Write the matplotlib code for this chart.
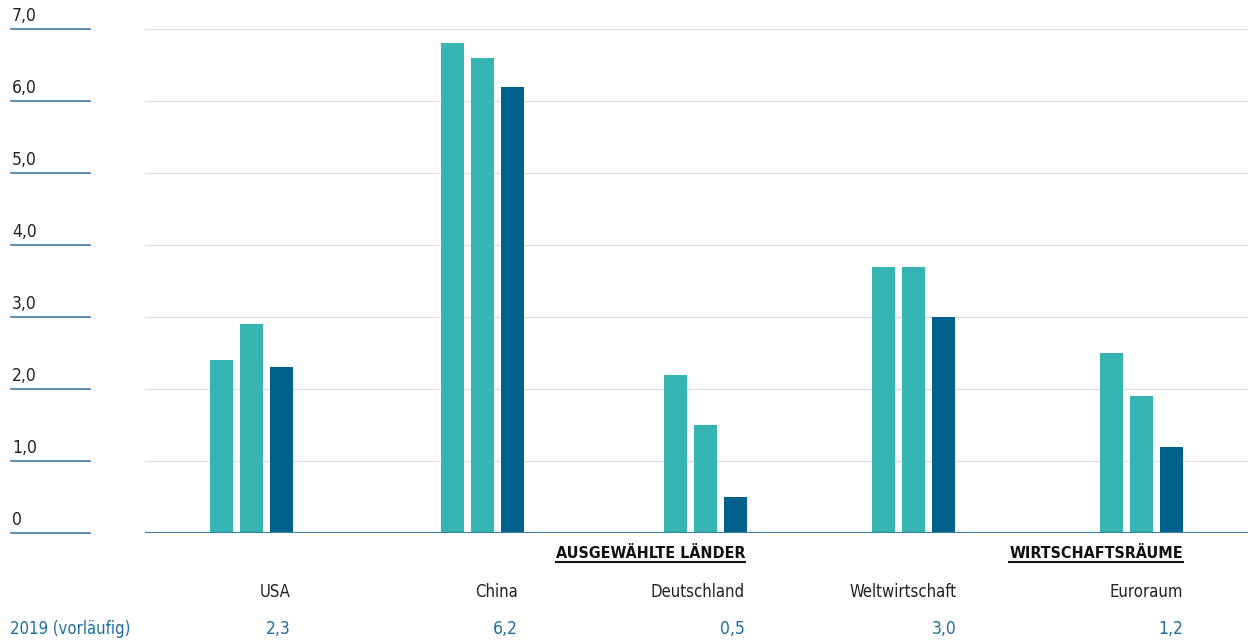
import matplotlib
matplotlib.use("Agg")
import matplotlib.pyplot as plt
from matplotlib.lines import Line2D

# data
categories = ["USA", "China", "Deutschland", "Weltwirtschaft", "Euroraum"]
series_a = [2.4, 6.8, 2.2, 3.7, 2.5]
series_b = [2.9, 6.6, 1.5, 3.7, 1.9]
series_2019 = [2.3, 6.2, 0.5, 3.0, 1.2]
value_labels = ["2,3", "6,2", "0,5", "3,0", "1,2"]
yticks = [0, 1, 2, 3, 4, 5, 6, 7]
ytick_labels = ["0", "1,0", "2,0", "3,0", "4,0", "5,0", "6,0", "7,0"]
row_label = "2019 (vorläufig)"
sections = [("AUSGEWÄHLTE LÄNDER", 2), ("WIRTSCHAFTSRÄUME", 4)]

# layout (pixel-like units inside the axes)
group_pos = [106.5, 337, 560, 768, 996]
label_right = [291, 518, 745, 957, 1183]   # right edge of labels, px
bw = 23
off = 30

TEAL = "#36b5b3"
DARK = "#00628c"
BLUE = "#1f6e9c"
LINE = "#3a7ca5"
FONT = dict(family="DejaVu Sans", fontstretch="condensed")

W, H = 1248, 641
fig = plt.figure(figsize=(W / 100, H / 100), dpi=100)
ax = fig.add_axes([145 / W, (H - 533) / H, 1 - 145 / W, 504 / H])

for i in range(len(categories)):
    x = group_pos[i]
    ax.bar(x - off, series_a[i], width=bw, color=TEAL)
    ax.bar(x, series_b[i], width=bw, color=TEAL)
    ax.bar(x + off, series_2019[i], width=bw, color=DARK)

ax.set_xlim(0, W - 145)
ax.set_ylim(0, 7)
for t in yticks[1:]:
    ax.axhline(t, color="#e2e2e2", lw=1, zorder=0)
ax.axhline(0, color=LINE, lw=1.5, zorder=3)
for s in ax.spines.values():
    s.set_visible(False)
ax.set_xticks([])
ax.set_yticks([])

# y labels with short lines on the left
for t, lab in zip(yticks, ytick_labels):
    yf = ((H - 533) + t * 72) / H
    fig.add_artist(Line2D([11 / W, 90 / W], [yf, yf], color=LINE, lw=1.2))
    fig.text(12 / W, yf + 4 / H, lab, ha="left", va="bottom", fontsize=12.5,
             color="#222222", **FONT)

# category names and values
for i, cat in enumerate(categories):
    xr = label_right[i] / W
    fig.text(xr, 1 - 592 / H, cat, ha="right", va="center", fontsize=12,
             color="#222222", **FONT)
    fig.text(xr, 1 - 629 / H, value_labels[i], ha="right", va="center",
             fontsize=12.5, color=BLUE, **FONT)
fig.text(10 / W, 1 - 629 / H, row_label, ha="left", va="center",
         fontsize=12, color=BLUE, **FONT)

# section headers, underlined
heads = []
for txt, gi in sections:
    xr = label_right[gi] / W
    heads.append(fig.text(xr, 1 - 553 / H, txt, ha="right", va="center",
                          fontsize=11.5, fontweight="heavy", color="#111111", **FONT))
fig.canvas.draw()
r = fig.canvas.get_renderer()
for h in heads:
    bb = h.get_window_extent(r)
    yl = (bb.y0 - 1) / H
    fig.add_artist(Line2D([bb.x0 / W, bb.x1 / W], [yl, yl], color="#111111", lw=1.5))

fig.savefig("out.png", dpi=100)
